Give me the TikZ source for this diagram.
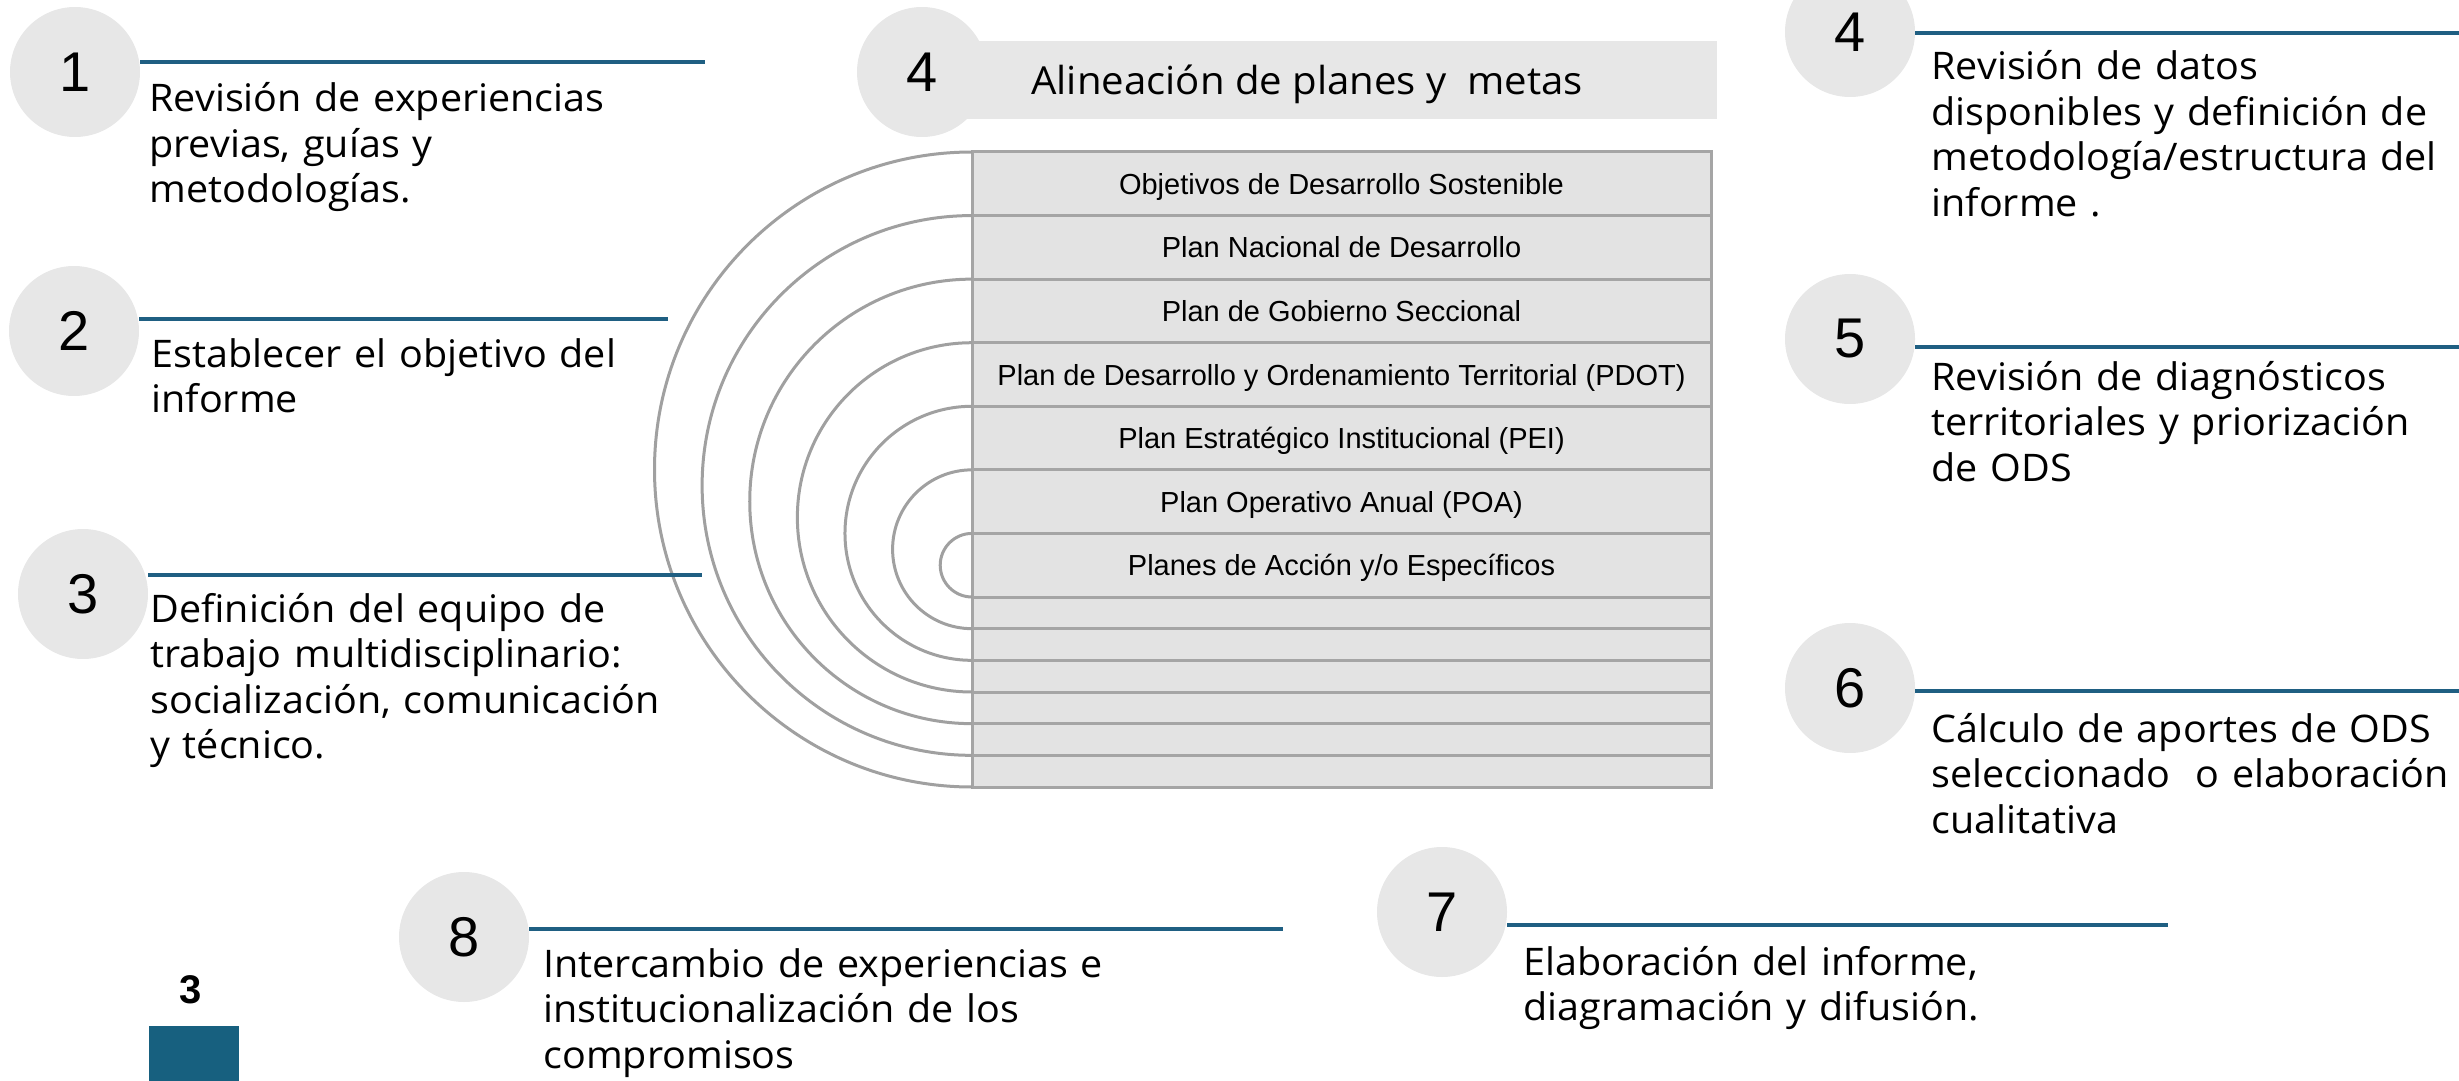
\documentclass[tikz,border=0pt]{standalone}
\usepackage{fontspec}
\newfontfamily\stepfont{Open Sans}[FakeStretch=1.04]
\newfontfamily\rowfont{Liberation Sans}
\definecolor{circgray}{HTML}{E7E7E7}
\definecolor{linecol}{HTML}{1F5F82}
\definecolor{squarecol}{HTML}{17607F}
\definecolor{tablefill}{HTML}{E3E3E3}
\definecolor{tableline}{HTML}{A5A5A5}
\definecolor{arccol}{HTML}{A0A0A0}
\tikzset{
  stepcircle/.style={circle, fill=circgray, minimum size=65pt, inner sep=0pt,
    font=\rowfont\fontsize{28}{28}\selectfont},
  steptext/.style={anchor=base west, inner sep=0pt, text width=300pt, align=left,
    font=\stepfont\fontsize{19}{22.75}\selectfont},
  stepline/.style={draw=linecol, line width=1.75pt},
  rowtext/.style={anchor=base, inner sep=0pt, font=\rowfont\fontsize{14.5}{16}\selectfont},
  tablelinestyle/.style={draw=tableline, line width=1.5pt},
  arcline/.style={draw=arccol, line width=1.5pt},
}
\begin{document}
\begin{tikzpicture}[x=0.5pt, y=-0.5pt]
\useasboundingbox (0,0) rectangle (2459,1081);

% ---------- left steps ----------
\node[stepcircle] (c1) at (75,72) {1};
\coordinate (e1) at (705,62);
\draw[stepline] (c1.east |- e1) -- (e1);
\node[steptext] (t1) at (149,112) {Revisión de experiencias\\ previas, guías y\\ metodologías.};

\node[stepcircle] (c2) at (74,331) {2};
\coordinate (e2) at (668,319);
\draw[stepline] (c2.east |- e2) -- (e2);
\node[steptext] (t2) at (151,367) {Establecer el objetivo del\\ informe};

% ---------- central table ----------
\fill[tablefill] (972,152) rectangle (1711,787);
\foreach \i in {1,...,7} \draw[tablelinestyle] (972,{152+63.571*\i}) -- (1711,{152+63.571*\i});
\foreach \j in {1,...,5} \draw[tablelinestyle] (972,{597+31.667*\j}) -- (1711,{597+31.667*\j});
\draw[tablelinestyle] (972,152) rectangle (1711,787);
\foreach \k in {0,...,6} {
  \pgfmathsetmacro\ttop{152+63.571*\k}
  \pgfmathsetmacro\rr{(787-31.667*\k-\ttop)/4}
  \draw[arcline] (972,\ttop) arc[start angle=90, end angle=270, radius=\rr pt];
}
\node[rowtext] (r1) at (1341.5,194.3) {Objetivos de Desarrollo Sostenible};
\node[rowtext] (r2) at (1341.5,257.9) {Plan Nacional de Desarrollo};
\node[rowtext] (r3) at (1341.5,321.5) {Plan de Gobierno Seccional};
\node[rowtext] (r4) at (1341.5,385.0) {Plan de Desarrollo y Ordenamiento Territorial (PDOT)};
\node[rowtext] (r5) at (1341.5,448.6) {Plan Estratégico Institucional (PEI)};
\node[rowtext] (r6) at (1341.5,512.2) {Plan Operativo Anual (POA)};
\node[rowtext] (r7) at (1341.5,575.8) {Planes de Acción y/o Específicos};

% step 3 (line crosses the arcs)
\node[stepcircle] (c3) at (83,594) {3};
\coordinate (e3) at (702,575);
\draw[stepline] (c3.east |- e3) -- (e3);
\node[steptext] (t3) at (150,622) {Definición del equipo de\\ trabajo multidisciplinario:\\ socialización, comunicación\\ y técnico.};

% ---------- banner ----------
\fill[circgray] (922,41) rectangle (1717,119);
\node[stepcircle] (c4) at (922,72) {4};
\node[anchor=base west, inner sep=0pt, font=\stepfont\fontsize{19.3}{22}\selectfont] (ban) at (1031,95) {Alineación de planes y~ metas};

% ---------- right steps ----------
\node[stepcircle] (c4r) at (1850,32) {4};
\coordinate (e4r) at (2459,33);
\draw[stepline] (c4r.east |- e4r) -- (e4r);
\node[steptext] (t4r) at (1931,80) {Revisión de datos\\ disponibles y definición de\\ metodología/estructura del\\ informe .};

\node[stepcircle] (c5) at (1850,339) {5};
\coordinate (e5) at (2459,347);
\draw[stepline] (c5.east |- e5) -- (e5);
\node[steptext] (t5) at (1931,390) {Revisión de diagnósticos\\ territoriales y priorización\\ de ODS};

\node[stepcircle] (c6) at (1850,688) {6};
\coordinate (e6) at (2459,691);
\draw[stepline] (c6.east |- e6) -- (e6);
\node[steptext] (t6) at (1931,742) {Cálculo de aportes de ODS\\ seleccionado~ o elaboración\\ cualitativa};

% ---------- bottom steps ----------
\node[stepcircle] (c7) at (1442,912) {7};
\coordinate (e7) at (2168,925);
\draw[stepline] (c7.east |- e7) -- (e7);
\node[steptext] (t7) at (1523,975) {Elaboración del informe,\\ diagramación y difusión.};

\node[stepcircle] (c8) at (464,937) {8};
\coordinate (e8) at (1283,929);
\draw[stepline] (c8.east |- e8) -- (e8);
\node[steptext] (t8) at (543,977) {Intercambio de experiencias e\\ institucionalización de los\\ compromisos};

% ---------- page marker ----------
\node[inner sep=0pt, font=\rowfont\bfseries\fontsize{20}{20}\selectfont] (pg) at (191,990) {3};
\fill[squarecol] (149,1026) rectangle (239,1081);
\end{tikzpicture}
\end{document}
